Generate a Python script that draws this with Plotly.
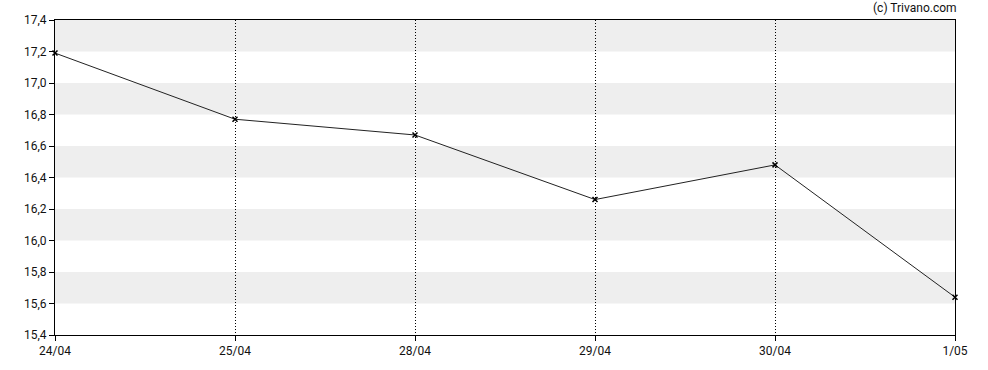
import plotly.graph_objects as go

dates = ["24/04", "25/04", "28/04", "29/04", "30/04", "1/05"]
prices = [17.19, 16.77, 16.67, 16.26, 16.48, 15.64]
y_ticks = [15.4, 15.6, 15.8, 16.0, 16.2, 16.4, 16.6, 16.8, 17.0, 17.2, 17.4]
y_tick_labels = ["15,4", "15,6", "15,8", "16,0", "16,2", "16,4", "16,6", "16,8", "17,0", "17,2", "17,4"]
watermark = "(c) Trivano.com"

x_idx = list(range(len(dates)))

fig = go.Figure()
fig.add_trace(go.Scatter(
    x=x_idx, y=prices, mode="lines+markers", cliponaxis=False,
    line=dict(color="#222222", width=1),
    marker=dict(symbol="x-thin", size=5, line=dict(color="#000000", width=1.5), color="#000000"),
    hoverinfo="skip", showlegend=False,
))

shapes = []
for i in range(len(y_ticks) - 1):
    lo, hi = y_ticks[i], y_ticks[i + 1]
    if (len(y_ticks) - 2 - i) % 2 == 0:
        shapes.append(dict(type="rect", xref="paper", yref="y", x0=0, x1=1, y0=lo, y1=hi,
                           fillcolor="#eeeeee", line=dict(width=0), layer="below"))

fig.update_layout(
    width=988, height=370,
    margin=dict(l=55, r=33, t=20, b=35, autoexpand=False),
    paper_bgcolor="white", plot_bgcolor="white",
    font=dict(family="Roboto", size=12, color="#111111"),
    shapes=shapes,
    xaxis=dict(
        range=[0, len(dates) - 1], tickvals=x_idx, ticktext=dates, automargin=False,
        showgrid=True, gridcolor="#000000", griddash="1px,2px", gridwidth=1,
        showline=True, mirror=True, linecolor="#000000", linewidth=1,
        ticks="outside", ticklen=5, tickcolor="#000000", zeroline=False,
    ),
    yaxis=dict(
        range=[y_ticks[0], y_ticks[-1]], tickvals=y_ticks, ticktext=y_tick_labels, automargin=False,
        showgrid=False, showline=True, mirror=True, linecolor="#000000", linewidth=1,
        ticks="outside", ticklen=5, tickcolor="#000000", zeroline=False,
    ),
    annotations=[dict(text=watermark, xref="paper", yref="paper", x=1.004, y=1.0,
                      xanchor="right", yanchor="bottom", showarrow=False,
                      font=dict(family="Roboto", size=12, color="#111111"), yshift=3)],
)

fig.write_html("out.html", config={"displayModeBar": False, "staticPlot": True},
               post_script="document.body.style.margin='0';")
